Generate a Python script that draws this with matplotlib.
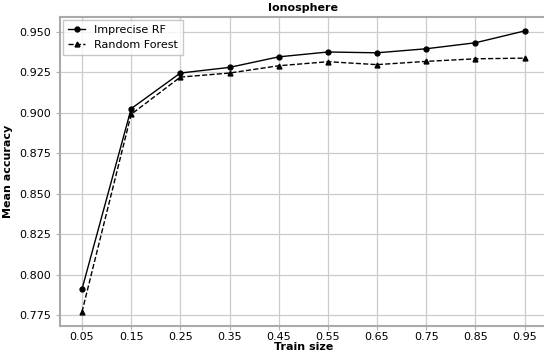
import matplotlib
matplotlib.use("Agg")
import matplotlib.pyplot as plt

train_size = [0.05, 0.15, 0.25, 0.35, 0.45, 0.55, 0.65, 0.75, 0.85, 0.95]
imprecise_rf = [0.791, 0.9025, 0.9245, 0.928, 0.9345, 0.9375, 0.937, 0.9395, 0.9432, 0.9505]
random_forest = [0.777, 0.899, 0.922, 0.9245, 0.929, 0.9315, 0.9297, 0.9317, 0.9333, 0.9337]

fig = plt.figure(figsize=(5.44, 3.52), dpi=100)
ax = fig.add_axes([0.11, 0.074, 0.895, 0.878])

ax.plot(train_size, imprecise_rf, "k-", marker="o", markersize=3.5, linewidth=1, label="Imprecise RF")
ax.plot(train_size, random_forest, "k--", marker="^", markersize=3.5, linewidth=1, label="Random Forest")

ax.set_xticks(train_size)
ax.set_xticklabels(["%.2f" % t for t in train_size])
ax.set_yticks([0.775, 0.8, 0.825, 0.85, 0.875, 0.9, 0.925, 0.95])
ax.set_yticklabels(["%.3f" % v for v in ax.get_yticks()])
ax.tick_params(labelsize=8, colors="black", length=3, color="#b0b0b0")
ax.tick_params(axis="x", pad=1.5)
ax.grid(True, color="#cccccc", linewidth=0.9)
for s in ax.spines.values():
    s.set_color("#aaaaaa")
    s.set_linewidth(1.5)

ax.set_title("Ionosphere", fontsize=8, fontweight="bold", pad=4)
ax.set_xlabel("Train size", fontsize=8, fontweight="bold", labelpad=0)
ax.set_ylabel("Mean accuracy", fontsize=8, fontweight="bold")
leg = ax.legend(loc="upper left", fontsize=8, fancybox=False, borderaxespad=0.3, handlelength=1.6)
leg.get_frame().set_edgecolor("#bbbbbb")

fig.savefig("out.png", dpi=100)
